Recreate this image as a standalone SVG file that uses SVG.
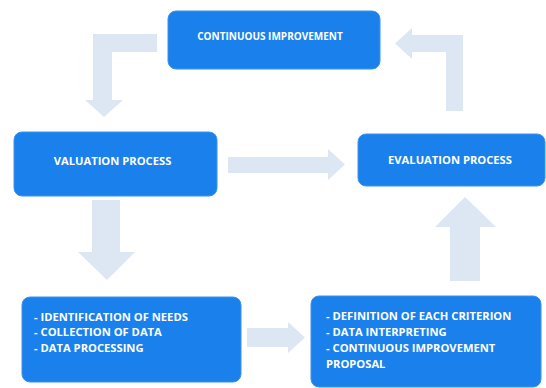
<svg xmlns="http://www.w3.org/2000/svg" width="546" height="388" viewBox="0 0 546 388">
  <style>
    .box { fill: #1a80ec; stroke: #3a92ee; stroke-width: 1; }
    .arrow { fill: #dde7f3; }
    .lbl { font-family: "Open Sans", "Liberation Sans", sans-serif; font-weight: bold; font-size: 11.2px; fill: #ffffff; }
    .small { font-size: 10px; }
    .mid { text-anchor: middle; }
  </style>
  <rect width="546" height="388" fill="#ffffff"/>

  <!-- block arrows between stages -->
  <g id="connectors">
    <polygon class="arrow" points="157,34 93,34 93,100 85,100 104,117 123,100 112,100 112,52 157,52"/>
    <polygon class="arrow" points="463,111 463,35 412,35 412,28 395,43.5 412,59 412,52 446,52 446,111"/>
    <polygon class="arrow" points="228,157 328,157 328,149 345,164.5 328,180 328,173 228,173"/>
    <polygon class="arrow" points="92,200 120,200 120,252 135,252 107,280 78,252 92,252"/>
    <polygon class="arrow" points="247,328 288,328 288,322 305,337.5 288,353 288,347 247,347"/>
    <polygon class="arrow" points="450,281 450,227 435,227 465,197 496,227 480,227 480,281"/>
  </g>

  <g id="continuous-improvement">
    <rect class="box" x="168" y="11" width="212" height="58" rx="8"/>
    <text class="lbl small mid" x="270" y="40">CONTINUOUS IMPROVEMENT</text>
  </g>

  <g id="valuation-process">
    <rect class="box" x="14" y="132" width="203" height="64" rx="8"/>
    <text class="lbl mid" x="112.5" y="165">VALUATION PROCESS</text>
  </g>

  <g id="evaluation-process">
    <rect class="box" x="358" y="134" width="187" height="52" rx="8"/>
    <text class="lbl mid" x="450" y="164">EVALUATION PROCESS</text>
  </g>

  <g id="valuation-steps">
    <rect class="box" x="22" y="297" width="219" height="85" rx="8"/>
    <text class="lbl" x="34" y="320.5">- IDENTIFICATION OF NEEDS</text>
    <text class="lbl" x="34" y="336">- COLLECTION OF DATA</text>
    <text class="lbl" x="34" y="351.5">- DATA PROCESSING</text>
  </g>

  <g id="evaluation-steps">
    <rect class="box" x="311" y="296" width="230" height="91" rx="8"/>
    <text class="lbl" x="326" y="320">- DEFINITION OF EACH CRITERION</text>
    <text class="lbl" x="326" y="336">- DATA INTERPRETING</text>
    <text class="lbl" x="326" y="352">- CONTINUOUS IMPROVEMENT</text>
    <text class="lbl" x="326" y="368">PROPOSAL</text>
  </g>
</svg>
